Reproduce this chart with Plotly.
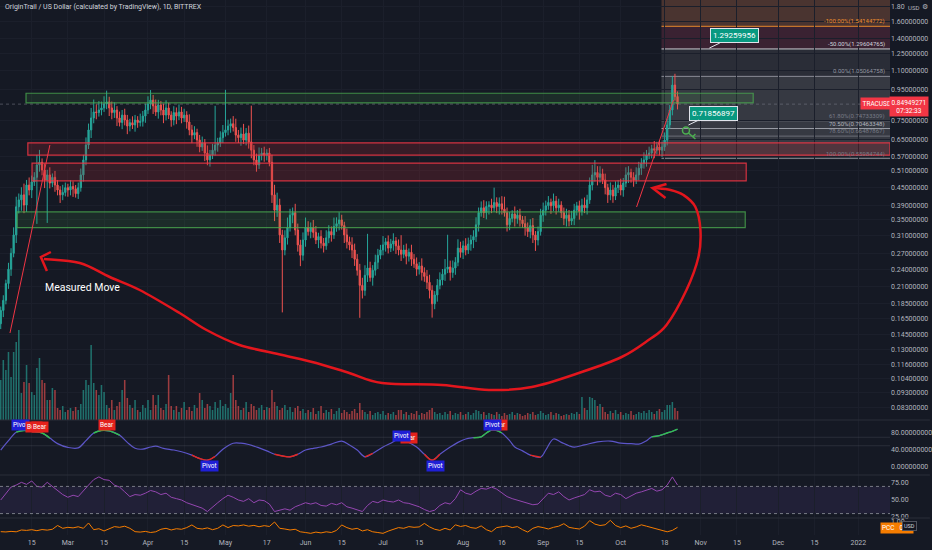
import numpy as np
import pandas as pd
import plotly.graph_objects as go

# ---- values: TRAC/USD, 1D, Bittrex ----
first_day = "2021-02-03"
first_open = 0.158

close = [
    0.175, 0.189, 0.215, 0.240, 0.271, 0.312, 0.387, 0.408, 0.424, 0.392,
    0.457, 0.440, 0.468, 0.485, 0.533, 0.544, 0.513, 0.475, 0.494, 0.464,
    0.485, 0.457, 0.440, 0.424, 0.432, 0.448, 0.440, 0.452, 0.444, 0.428,
    0.448, 0.494, 0.554, 0.621, 0.697, 0.764, 0.800, 0.796, 0.812, 0.825,
    0.851, 0.864, 0.825, 0.796, 0.812, 0.764, 0.738, 0.781, 0.752, 0.718,
    0.737, 0.724, 0.752, 0.738, 0.745, 0.775, 0.812, 0.851, 0.876, 0.838,
    0.800, 0.844, 0.812, 0.781, 0.825, 0.781, 0.752, 0.796, 0.775, 0.800,
    0.764, 0.781, 0.741, 0.697, 0.670, 0.683, 0.645, 0.612, 0.631, 0.584,
    0.554, 0.575, 0.597, 0.621, 0.631, 0.657, 0.683, 0.697, 0.718, 0.731,
    0.710, 0.670, 0.657, 0.676, 0.645, 0.680, 0.636, 0.597, 0.554, 0.533,
    0.575, 0.584, 0.575, 0.584, 0.544, 0.424, 0.377, 0.392, 0.312, 0.278,
    0.305, 0.330, 0.363, 0.370, 0.324, 0.289, 0.267, 0.300, 0.330, 0.320,
    0.330, 0.318, 0.300, 0.308, 0.293, 0.287, 0.305, 0.320, 0.312, 0.333,
    0.340, 0.350, 0.335, 0.312, 0.296, 0.289, 0.278, 0.259, 0.238, 0.212,
    0.204, 0.229, 0.242, 0.225, 0.238, 0.253, 0.267, 0.278, 0.289, 0.296,
    0.282, 0.291, 0.298, 0.287, 0.278, 0.269, 0.278, 0.265, 0.273, 0.259,
    0.250, 0.240, 0.246, 0.234, 0.227, 0.217, 0.204, 0.184, 0.197, 0.212,
    0.221, 0.231, 0.240, 0.244, 0.234, 0.242, 0.253, 0.282, 0.273, 0.287,
    0.278, 0.291, 0.300, 0.308, 0.337, 0.370, 0.384, 0.370, 0.388, 0.392,
    0.384, 0.400, 0.388, 0.396, 0.380, 0.370, 0.337, 0.354, 0.366, 0.354,
    0.363, 0.350, 0.340, 0.330, 0.320, 0.335, 0.312, 0.300, 0.320, 0.363,
    0.377, 0.390, 0.400, 0.390, 0.404, 0.384, 0.392, 0.370, 0.354, 0.363,
    0.347, 0.354, 0.377, 0.390, 0.373, 0.392, 0.384, 0.408, 0.457, 0.494,
    0.503, 0.485, 0.498, 0.475, 0.448, 0.424, 0.440, 0.420, 0.448, 0.457,
    0.440, 0.464, 0.494, 0.503, 0.485, 0.475, 0.494, 0.520, 0.540, 0.554,
    0.575, 0.584, 0.604, 0.597, 0.612, 0.597, 0.612, 0.645, 0.724, 0.812,
    0.983, 0.900, 0.8495,
]

# wick lengths in % of the candle body edge
wick_up = [
    3, 4, 3, 5, 4, 6, 8, 5, 6, 9,
    4, 6, 5, 4, 8, 10, 3, 5, 4, 6,
    3, 5, 4, 3, 6, 4, 3, 5, 4, 3,
    4, 5, 4, 6, 5, 8, 10, 6, 7, 5,
    6, 9, 4, 5, 6, 3, 5, 4, 5, 4,
    3, 5, 4, 3, 6, 4, 5, 6, 8, 4,
    5, 4, 3, 5, 6, 4, 3, 5, 4, 6,
    4, 5, 3, 6, 4, 5, 3, 4, 5, 3,
    6, 4, 5, 35, 4, 5, 6, 36, 5, 4,
    6, 7, 4, 5, 8, 4, 6, 32, 4, 5,
    6, 4, 5, 3, 4, 6, 8, 10, 5, 4,
    6, 8, 5, 4, 7, 5, 4, 6, 8, 5,
    4, 6, 5, 3, 5, 4, 6, 5, 4, 7,
    5, 6, 4, 3, 5, 4, 6, 5, 4, 5,
    6, 8, 30, 5, 4, 6, 5, 4, 7, 3,
    5, 4, 6, 3, 5, 12, 4, 5, 3, 6,
    4, 5, 3, 6, 4, 5, 6, 4, 3, 5,
    6, 4, 8, 28, 5, 6, 4, 7, 5, 4,
    6, 5, 4, 5, 6, 4, 5, 6, 4, 3,
    5, 12, 4, 5, 6, 10, 4, 5, 3, 6,
    4, 5, 3, 6, 4, 5, 6, 3, 4, 5,
    6, 4, 5, 3, 6, 4, 5, 3, 4, 5,
    4, 6, 5, 3, 4, 5, 6, 4, 6, 8,
    10, 5, 6, 4, 5, 3, 6, 4, 5, 4,
    5, 4, 6, 5, 3, 4, 6, 5, 4, 6,
    4, 5, 3, 6, 4, 5, 4, 6, 5, 4,
    7, 9, 4,
]
wick_dn = [
    4, 5, 3, 4, 5, 3, 6, 5, 8, 6,
    5, 4, 6, 3, 30, 5, 4, 6, 28, 4,
    3, 5, 4, 6, 4, 3, 5, 4, 6, 3,
    4, 3, 5, 4, 3, 6, 4, 5, 3, 4,
    3, 4, 6, 5, 4, 6, 3, 5, 4, 6,
    4, 3, 5, 4, 3, 4, 5, 3, 4, 6,
    3, 5, 4, 6, 4, 3, 5, 4, 6, 3,
    4, 3, 5, 4, 6, 3, 5, 4, 3, 6,
    4, 5, 3, 4, 5, 3, 4, 3, 4, 5,
    3, 5, 4, 6, 3, 4, 5, 6, 4, 5,
    3, 4, 5, 4, 3, 6, 8, 5, 6, 38,
    4, 5, 3, 6, 4, 5, 8, 4, 5, 3,
    5, 4, 3, 6, 4, 5, 3, 4, 5, 3,
    4, 5, 3, 6, 5, 4, 6, 5, 4, 22,
    6, 4, 5, 3, 6, 4, 5, 3, 4, 5,
    4, 3, 5, 6, 4, 5, 3, 6, 4, 5,
    3, 5, 4, 6, 4, 5, 6, 10, 4, 5,
    3, 4, 5, 3, 6, 4, 5, 3, 4, 5,
    4, 3, 5, 6, 4, 5, 3, 4, 5, 6,
    4, 3, 5, 6, 4, 3, 5, 4, 3, 6,
    4, 5, 3, 6, 4, 5, 6, 8, 4, 3,
    5, 4, 3, 6, 4, 5, 3, 4, 5, 6,
    4, 3, 5, 4, 6, 3, 4, 5, 3, 4,
    5, 6, 4, 3, 5, 6, 4, 5, 3, 4,
    4, 5, 3, 6, 4, 5, 3, 4, 5, 4,
    5, 3, 4, 6, 3, 4, 5, 3, 4, 3,
    4, 3, 4,
]

# volume, arbitrary units (pane scaled so 1 unit ~ 1 px)
volume = [
    40, 60, 50, 68, 43, 68, 78, 90, 27, 38,
    55, 37, 28, 25, 52, 62, 40, 37, 20, 20,
    32, 30, 12, 10, 14, 8, 10, 12, 9, 13,
    10, 16, 30, 40, 35, 75, 37, 30, 25, 35,
    28, 15, 12, 20, 10, 14, 18, 30, 40, 22,
    15, 12, 20, 10, 8, 15, 12, 20, 10, 25,
    15, 25, 12, 10, 16, 45, 14, 10, 14, 8,
    12, 18, 10, 13, 9, 15, 12, 27, 20, 12,
    16, 14, 10, 18, 12, 20, 14, 16, 12, 27,
    45, 20, 14, 10, 12, 18, 8, 16, 14, 10,
    12, 15, 10, 13, 12, 30, 18, 14, 10, 12,
    15, 10, 13, 8, 12, 14, 9, 11, 7, 10,
    8, 12, 6, 9, 14, 7, 10, 8, 11, 6,
    9, 12, 7, 10, 8, 6, 9, 11, 7, 17,
    10, 8, 6, 9, 5, 7, 8, 6, 9, 5,
    7, 6, 8, 5, 10, 10, 6, 8, 5, 7,
    6, 9, 5, 7, 6, 8, 10, 12, 8, 6,
    7, 5, 8, 6, 9, 5, 7, 6, 8, 5,
    6, 8, 5, 7, 10, 9, 6, 8, 5, 7,
    6, 5, 8, 6, 4, 7, 5, 6, 8, 5,
    7, 6, 4, 5, 7, 6, 8, 5, 6, 9,
    7, 5, 6, 8, 5, 7, 6, 4, 5, 6,
    5, 7, 6, 8, 6, 23, 12, 10, 23, 22,
    20, 14, 16, 13, 8, 6, 9, 7, 10, 6,
    8, 5, 7, 6, 9, 5, 6, 8, 7, 9,
    7, 10, 8, 6, 9, 11, 8, 10, 15, 15,
    18, 12, 9,
]

# smooth oscillator (days counted from 2021-02-15)
osc_day = [-12, -9, -6, -3, 0, 4, 7, 10, 14, 18, 21, 24, 27, 30, 34, 37, 40, 43, 46, 48,
           51, 55, 58, 62, 65, 68, 71, 74, 78, 81, 84, 88, 91, 94, 97, 100, 103, 106, 109, 112,
           116, 120, 123, 126, 129, 132, 136, 139, 143, 146, 149, 152, 155, 158, 162, 165, 168, 171, 174, 176,
           178, 180, 182, 185, 187, 190, 193, 197, 199, 202, 205, 208, 210, 214, 219, 224, 228, 232, 235, 238,
           240, 243, 246, 248, 250]
osc_val = [40, 62, 82, 86, 84, 80, 68, 55, 46, 45, 62, 80, 86, 85, 75, 58, 44, 42, 47, 49,
           44, 40, 36, 28, 20, 16, 25, 42, 56, 56, 53, 45, 38, 30, 26, 24, 30, 40, 44, 47,
           54, 61, 52, 40, 24, 32, 47, 56, 68, 58, 47, 30, 16, 30, 47, 58, 66, 69, 71, 80,
           87, 86, 80, 62, 47, 38, 28, 23, 40, 66, 58, 50, 47, 52, 59, 61, 56, 55, 54, 62,
           71, 74, 80, 84, 89]

# RSI and PCC, every second day from first_day
rsi = [
    50, 60, 69, 72, 76, 73, 78, 70, 69, 76,
    70, 65, 58, 54, 57, 55, 64, 72, 80, 84,
    80, 79, 72, 69, 62, 55, 58, 57, 60, 64,
    62, 58, 60, 54, 52, 50, 46, 43, 40, 38,
    33, 40, 46, 52, 57, 54, 50, 48, 52, 46,
    50, 49, 44, 33, 35, 37, 35, 40, 43, 46,
    44, 46, 42, 41, 45, 43, 46, 40, 38, 35,
    33, 42, 48, 46, 50, 48, 47, 50, 46, 45,
    43, 40, 36, 33, 35, 42, 46, 44, 52, 65,
    60, 58, 63, 67, 66, 69, 66, 60, 55, 52,
    50, 48, 46, 43, 44, 52, 60, 58, 62, 55,
    50, 53, 55, 58, 65, 62, 63, 57, 55, 60,
    58, 52, 56, 60, 62, 64, 67, 63, 65, 72,
    84, 72,
]
pcc = [
    0.31, 0.29, 0.33, 0.30, 0.43, 0.40, 0.45, 0.38, 0.46, 0.42,
    0.48, 0.75, 0.55, 0.62, 0.58, 0.66, 0.55, 0.93, 0.45, 0.52,
    0.36, 0.50, 0.67, 0.62, 0.70, 0.55, 0.31, 0.28, 0.33, 0.25,
    0.30, 0.48, 0.55, 0.43, 0.52, 0.48, 0.60, 0.79, 0.55, 0.50,
    0.58, 0.45, 0.55, 0.79, 0.60, 0.75, 0.72, 0.79, 0.70, 0.76,
    0.66, 0.74, 0.68, 1.00, 0.55, 0.50, 0.43, 0.48, 0.30, 0.25,
    0.19, 0.28, 0.22, 0.30, 0.25, 0.40, 0.79, 0.60, 0.48, 0.55,
    0.36, 0.45, 0.30, 0.25, 0.19, 0.35, 0.45, 0.60, 0.55, 0.67,
    0.62, 0.65, 0.90, 0.65, 0.48, 0.40, 0.55, 0.43, 0.80, 0.68,
    0.75, 0.60, 0.55, 0.72, 0.45, 0.31, 0.60, 0.65, 0.72, 0.60,
    0.67, 0.45, 0.28, 0.55, 0.67, 0.60, 0.50, 0.62, 0.70, 0.88,
    0.62, 0.55, 0.50, 0.70, 1.10, 0.85, 0.75, 0.80, 1.12, 0.75,
    0.60, 0.72, 0.55, 0.65, 0.80, 0.70, 0.60, 0.45, 0.38, 0.30,
    0.40, 0.62,
]

price_ticks = [1.80, 1.60, 1.40, 1.25, 1.10, 0.95, 0.75, 0.65, 0.57, 0.51, 0.45, 0.39, 0.35,
               0.31, 0.27, 0.24, 0.21, 0.185, 0.165, 0.145, 0.13, 0.116, 0.104, 0.093, 0.083]
tick_dates = ["2021-02-15", "2021-03-01", "2021-03-15", "2021-04-01", "2021-04-15", "2021-05-01",
              "2021-05-17", "2021-06-01", "2021-06-15", "2021-07-01", "2021-07-15", "2021-08-01",
              "2021-08-16", "2021-09-01", "2021-09-15", "2021-10-01", "2021-10-18", "2021-11-01",
              "2021-11-15", "2021-12-01", "2021-12-15", "2022-01-01"]
tick_text = ["15", "Mar", "15", "Apr", "15", "May", "17", "Jun", "15", "Jul", "15", "Aug",
             "16", "Sep", "15", "Oct", "18", "Nov", "15", "Dec", "15", "2022"]

last_price = 0.84949271
fib_hi = 1.05064758
fib_lo = 0.55984744
fib_ratios = [-1.0, -0.5, 0.0, 0.618, 0.705, 0.786, 1.0]

# ---- build candles ----
assert len(close) == len(wick_up) == len(wick_dn) == len(volume)
dates = pd.date_range(first_day, periods=len(close), freq="D")
cls = np.array(close)
opn = np.array([first_open] + close[:-1])
high = np.maximum(opn, cls) * (1 + np.array(wick_up) / 100)
low = np.minimum(opn, cls) * (1 - np.array(wick_dn) / 100)

UP, DN = "#26a69a", "#ef5350"
vol_colors = np.where(cls >= opn, "rgba(38,166,154,0.62)", "rgba(239,83,80,0.62)")

osc_x = pd.Timestamp("2021-02-15") + pd.to_timedelta(osc_day, unit="D")
ov = np.array(osc_val, dtype=float)
osc_green = np.where(ov >= 68, ov, np.nan)
osc_red = np.where(ov <= 32, ov, np.nan)
two_day = pd.date_range(first_day, periods=len(rsi), freq="2D")

BG = "#151924"
GRID = "#1b1f2b"
TXT = "#b2b5be"
FONT = "Roboto"

# plot area in px (932x550 with r=40, b=15)
W, H = 892, 535
def px(x): return x / W
def py(y): return 1 - y / H

x_range = ["2021-02-02 17:17", "2022-01-13 06:00"]
d_price = 1 - 420 / H
d_osc = 1 - 475 / H
d_rsi = 1 - 518 / H

fig = go.Figure()
fig.add_trace(go.Bar(x=dates, y=volume, marker_color=vol_colors, marker_line_width=0,
                     width=0.6 * 86400000, xaxis="x", yaxis="y", hoverinfo="skip"))
fig.add_trace(go.Candlestick(x=dates, open=opn, high=high, low=low, close=cls,
                             xaxis="x", yaxis="y2", whiskerwidth=0,
                             increasing=dict(line=dict(color=UP, width=1), fillcolor=UP),
                             decreasing=dict(line=dict(color=DN, width=1), fillcolor=DN),
                             hoverinfo="skip"))
fig.add_trace(go.Scatter(x=osc_x, y=ov, mode="lines", line=dict(color="#5c55c9", width=1.2, shape="spline"),
                         xaxis="x2", yaxis="y3", hoverinfo="skip"))
fig.add_trace(go.Scatter(x=osc_x, y=osc_green, mode="lines", line=dict(color="#33c24d", width=1.4, shape="spline"),
                         xaxis="x2", yaxis="y3", hoverinfo="skip"))
fig.add_trace(go.Scatter(x=osc_x, y=osc_red, mode="lines", line=dict(color="#e5281f", width=1.4, shape="spline"),
                         xaxis="x2", yaxis="y3", hoverinfo="skip"))
fig.add_trace(go.Scatter(x=two_day, y=rsi, mode="lines", line=dict(color="#9446b0", width=1),
                         xaxis="x3", yaxis="y4", hoverinfo="skip"))
fig.add_trace(go.Scatter(x=two_day, y=pcc, mode="lines", line=dict(color="#f57c00", width=1),
                         xaxis="x4", yaxis="y5", hoverinfo="skip"))

shapes = []
# fib extension zone
fib_x0 = "2021-10-16 19:00"
fib_price = [fib_hi - r * (fib_hi - fib_lo) for r in fib_ratios]
bands = [(fib_price[0], 3.0, "#4a3430"), (fib_price[1], fib_price[0], "#3a2232"),
         (fib_price[2], fib_price[1], "#2a2d37"), (fib_lo, fib_price[2], "#363942")]
for p0, p1, col in bands:
    shapes.append(dict(type="rect", xref="x", yref="y2", x0=fib_x0, x1=x_range[1], y0=p0, y1=p1,
                       fillcolor=col, line_width=0, layer="below"))
fib_cols = ["#e8892c", "#c8cad0", "#8a8d96", "#6b6e78", "#9a9da6", "#6b6e78", "#7a7d86"]
for p, col in zip(fib_price, fib_cols):
    shapes.append(dict(type="line", xref="x", yref="y2", x0=fib_x0, x1=x_range[1], y0=p, y1=p,
                       line=dict(color=col, width=1), layer="below"))

# support / resistance boxes
zones = [
    ("2021-02-12 19:00", "2021-11-21 07:00", 0.857, 0.923, "g"),
    ("2021-02-13 12:00", x_range[1], 0.575, 0.631, "r"),
    ("2021-02-15 03:00", "2021-11-18 14:00", 0.472, 0.541, "r"),
    ("2021-02-09 07:00", "2021-11-18 05:00", 0.330, 0.372, "g"),
]
for x0, x1, p0, p1, kind in zones:
    if kind == "g":
        fill, edge = "rgba(76,175,80,0.13)", "rgba(76,175,80,0.75)"
    else:
        fill, edge = "rgba(178,40,51,0.22)", "rgba(242,54,69,0.85)"
    shapes.append(dict(type="rect", xref="x", yref="y2", x0=x0, x1=x1, y0=p0, y1=p1,
                       fillcolor=fill, line=dict(color=edge, width=1.2), layer="above"))

# current price line
shapes.append(dict(type="line", xref="paper", yref="y2", x0=0, x1=1, y0=last_price, y1=last_price,
                   line=dict(color="rgba(120,123,134,0.55)", width=1, dash="dot")))

# oscillator / RSI guides
for lvl in (70, 50):
    shapes.append(dict(type="line", xref="paper", yref="y3", x0=0, x1=1, y0=lvl, y1=lvl,
                       line=dict(color="rgba(120,123,134,0.22)", width=1)))
shapes.append(dict(type="rect", xref="paper", yref="y4", x0=0, x1=1, y0=30, y1=70,
                   fillcolor="rgba(126,87,194,0.12)", line_width=0, layer="below"))
for lvl in (70, 30):
    shapes.append(dict(type="line", xref="paper", yref="y4", x0=0, x1=1, y0=lvl, y1=lvl,
                       line=dict(color="#787b86", width=1, dash="dot")))

# pane separators
for yy in (420, 475, 518):
    shapes.append(dict(type="line", xref="paper", yref="paper", x0=0, x1=px(932), y0=py(yy), y1=py(yy),
                       line=dict(color="#2a2e39", width=1)))


def smooth_path(pts):
    p = [(px(x), py(y)) for x, y in pts]
    d = f"M {p[0][0]:.5f},{p[0][1]:.5f}"
    for i in range(len(p) - 1):
        p0 = p[i - 1] if i > 0 else p[i]
        p1, p2 = p[i], p[i + 1]
        p3 = p[i + 2] if i + 2 < len(p) else p[i + 1]
        c1 = (p1[0] + (p2[0] - p0[0]) / 6, p1[1] + (p2[1] - p0[1]) / 6)
        c2 = (p2[0] - (p3[0] - p1[0]) / 6, p2[1] - (p3[1] - p1[1]) / 6)
        d += f" C {c1[0]:.5f},{c1[1]:.5f} {c2[0]:.5f},{c2[1]:.5f} {p2[0]:.5f},{p2[1]:.5f}"
    return d


def poly_path(pts):
    return "M " + " L ".join(f"{px(x):.5f},{py(y):.5f}" for x, y in pts)


# hand drawn red curve + arrows
curve = [(44, 259), (80, 263), (110, 277), (140, 290), (180, 313), (207, 330), (240, 345), (283, 355),
         (317, 363), (350, 373), (383, 383), (443, 385), (490, 390), (533, 387), (583, 372), (623, 357),
         (650, 340), (668, 325), (688, 290), (700, 257), (702, 230), (697, 207), (685, 195), (672, 190),
         (656, 188)]
RED = "#e3161d"
shapes.append(dict(type="path", xref="paper", yref="paper", path=smooth_path(curve),
                   line=dict(color=RED, width=2.5)))
for head in ([(51, 252), (41, 257), (47, 271)], [(668, 184), (654, 188), (667, 198)]):
    shapes.append(dict(type="path", xref="paper", yref="paper", path=poly_path(head),
                       line=dict(color=RED, width=2.5)))
for a, b in (((10, 333), (50, 145)), ((638, 207), (675, 100))):
    shapes.append(dict(type="line", xref="paper", yref="paper", x0=px(a[0]), y0=py(a[1]),
                       x1=px(b[0]), y1=py(b[1]), line=dict(color="#f23645", width=1)))

# green key icon
shapes.append(dict(type="circle", xref="paper", yref="paper", x0=px(684), x1=px(691), y0=py(134), y1=py(127),
                   line=dict(color="#4caf50", width=1.5)))
shapes.append(dict(type="path", xref="paper", yref="paper", path=poly_path([(690, 133), (697, 139)]),
                   line=dict(color="#4caf50", width=1.5)))
shapes.append(dict(type="path", xref="paper", yref="paper", path=poly_path([(694, 137), (697, 134)]),
                   line=dict(color="#4caf50", width=1.5)))

ann = []
def note(x, y, text, size=7, color=TXT, xanchor="center", **kw):
    ann.append(dict(xref="paper", yref="paper", x=px(x), y=py(y), text=text, showarrow=False,
                    xanchor=xanchor, yanchor="middle",
                    font=dict(size=size, color=color, family=FONT), **kw))


note(3, 7, "OriginTrail / US Dollar (calculated by TradingView), 1D, BITTREX", size=7, color="#d1d4dc",
     xanchor="left")
note(83, 287, "Measured Move", size=10.5, color="#ffffff")

# fib labels
fib_lab_cols = ["#f0902e", "#d1d4dc", "#9598a1", "#787b86", "#b2b5be", "#787b86", "#787b86"]
for r, p, col in zip(fib_ratios, fib_price, fib_lab_cols):
    ann.append(dict(xref="paper", yref="y2", x=px(889), y=np.log10(p), text=f"{r * 100:.2f}%({p:.8f})",
                    showarrow=False, xanchor="right", yanchor="bottom", yshift=-1,
                    font=dict(size=6, color=col, family=FONT)))

# callouts
for tip, txt in (((711, 48), "1.29259956"), ((690, 125), "0.71856897")):
    ann.append(dict(xref="paper", yref="paper", x=px(tip[0]), y=py(tip[1]), ax=25, ay=-12, text=txt,
                    showarrow=True, arrowhead=0, arrowwidth=1, arrowcolor="#e0e3eb",
                    bgcolor="#089981", bordercolor="#e0e3eb", borderwidth=1, borderpad=2,
                    font=dict(size=8, color="#ffffff", family=FONT)))

# oscillator tags
tags = [(21, 425, "Pivot", "#1f1fd6"), (34, 427, "Bear", "#e3211c"), (40, 427, "Bear", "#e3211c"),
        (107, 425, "Bear", "#e3211c"), (210, 466, "Pivot", "#1f1fd6"), (410, 438, "Bear", "#e3211c"),
        (402, 436, "Pivot", "#1f1fd6"), (436, 466, "Pivot", "#1f1fd6"), (500, 425, "Bear", "#e3211c"),
        (494, 425, "Pivot", "#1f1fd6")]
for x, y, t, c in tags:
    note(x, y, t, size=6.5, color="#ffffff", bgcolor=c, borderpad=1)

# right-hand price labels
note(879, 103.5, "TRACUSD", size=6.5, color="#ffffff", bgcolor="#f23645", borderpad=1.5)
note(911, 106.5, "0.84949271<br>07:32:33", size=6.5, color="#ffffff", bgcolor="#f23645", borderpad=1.5)
note(916, 7, "USD", size=6, color=TXT)
note(927, 7, "⚙", size=7, color=TXT)
note(899, 528, "PCC   0.86", size=6.5, color="#ffffff", bgcolor="#f57c00", borderpad=1)
note(912, 526, "USD", size=5.5, color="#d1d4dc", bgcolor="#131722", bordercolor="#50535e", borderwidth=1,
     borderpad=1)

common_x = dict(type="date", range=x_range, tickvals=tick_dates, ticktext=tick_text, showgrid=True,
                gridcolor=GRID, zeroline=False, showline=False, ticks="",
                tickfont=dict(size=7, color=TXT, family=FONT))
ytick = dict(size=7, color=TXT, family=FONT)

fig.update_layout(
    width=932, height=550,
    margin=dict(l=0, r=40, t=0, b=15),
    paper_bgcolor=BG, plot_bgcolor=BG,
    showlegend=False,
    xaxis=dict(common_x, domain=[0, 1], anchor="y", showticklabels=False, rangeslider=dict(visible=False)),
    xaxis2=dict(common_x, matches="x", anchor="y3", showticklabels=False),
    xaxis3=dict(common_x, matches="x", anchor="y4", showticklabels=False),
    xaxis4=dict(common_x, matches="x", anchor="y5", showticklabels=True, ticklabelstandoff=2),
    yaxis=dict(domain=[d_price, 1], anchor="x", range=[0, 420], visible=False, fixedrange=True),
    yaxis2=dict(overlaying="y", anchor="x", side="right", type="log", range=[-1.1214, 0.2754],
                tickvals=price_ticks,
                ticktext=["1.80" if v == 1.80 else f"{v:.8f}" for v in price_ticks],
                showgrid=True, gridcolor=GRID, zeroline=False, ticks="", tickfont=ytick),
    yaxis3=dict(domain=[d_osc, d_price], anchor="x2", side="right", range=[-18.8, 110.6],
                tickvals=[0, 40, 80], ticktext=[f"{v:.8f}" for v in (0, 40, 80)],
                showgrid=False, zeroline=False, ticks="", tickfont=ytick),
    yaxis4=dict(domain=[d_rsi, d_osc], anchor="x3", side="right", range=[23.5, 86.8],
                tickvals=[25, 50, 75], ticktext=["25.00", "50.00", "75.00"],
                showgrid=False, zeroline=False, ticks="", tickfont=ytick),
    yaxis5=dict(domain=[0, d_rsi], anchor="x4", side="right", range=[0.071, 1.286],
                tickvals=[1.0], ticktext=["1.00"], showgrid=False, zeroline=False, ticks="",
                tickfont=ytick),
    shapes=shapes,
    annotations=ann,
)

# the page body has a default 8px margin; drop it so the figure sits at the window origin
fig.write_html("out.html", config={"displayModeBar": False},
               post_script="document.body.style.margin='0px';")
